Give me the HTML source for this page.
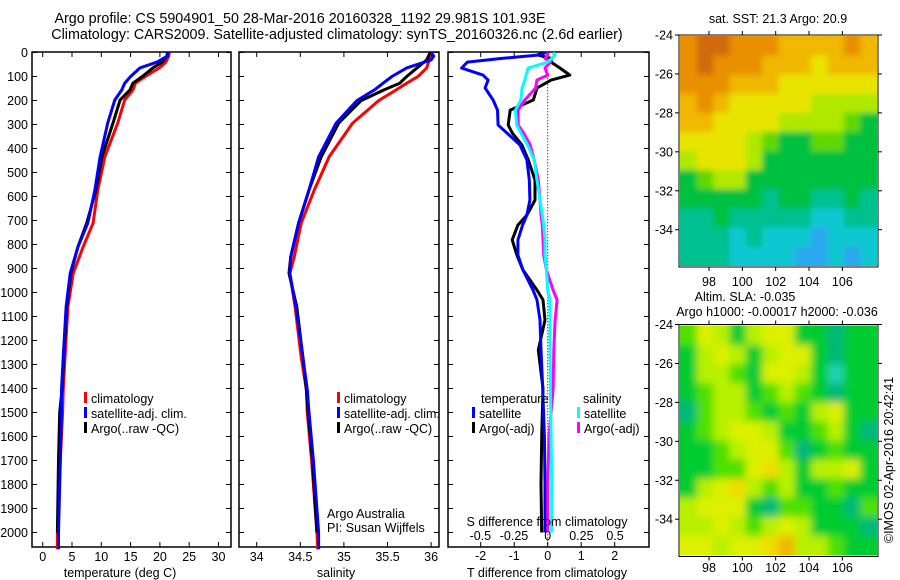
<!DOCTYPE html>
<html><head><meta charset="utf-8"><style>
html,body{margin:0;padding:0;background:#fff;}
svg{display:block;font-family:"Liberation Sans",Arial,sans-serif;}
text{fill:#000;}
</style></head><body>
<svg id="fig" width="900" height="580" xmlns="http://www.w3.org/2000/svg">
<defs>
<filter id="blurSla" x="-10%" y="-10%" width="120%" height="120%"><feGaussianBlur stdDeviation="4"/></filter>
<filter id="blurSst" x="-10%" y="-10%" width="120%" height="120%"><feGaussianBlur stdDeviation="3"/></filter>
<clipPath id="clipSst"><rect x="680" y="36" width="197" height="230"/></clipPath>
<clipPath id="clipSla"><rect x="680" y="325.5" width="197" height="230"/></clipPath>
</defs>
<text x="300" y="23" font-size="14.3" text-anchor="middle">Argo profile: CS 5904901_50 28-Mar-2016 20160328_1192 29.981S 101.93E</text>
<text x="337" y="39" font-size="14.3" text-anchor="middle">Climatology: CARS2009. Satellite-adjusted climatology: synTS_20160326.nc (2.6d earlier)</text>
<text x="778" y="23" font-size="12.5" text-anchor="middle">sat. SST: 21.3 Argo: 20.9</text>
<text x="745" y="301" font-size="12.5" text-anchor="middle">Altim. SLA: -0.035</text>
<text x="777" y="316" font-size="12.5" text-anchor="middle">Argo h1000: -0.00017 h2000: -0.036</text>
<text transform="translate(893,460) rotate(-90)" font-size="12.5" text-anchor="middle">©IMOS 02-Apr-2016 20:42:41</text>
<g id="g"></g>
</svg>
<script>
// ---- data ----
const tDepth   = [0,15,40,64,100,128,156,198,294,435,573,711,810,920,1060,1270,1406,1500,1700,2000,2070];
const tClim    = [21.6,21.5,21.0,19.9,17.5,15.8,15.4,14.0,12.8,10.6,9.4,8.6,6.9,5.2,4.3,3.8,3.5,3.4,3.0,2.5,2.5];
const tSat     = [21.4,21.3,19.5,16.6,15.0,14.0,13.5,12.3,11.1,9.8,8.9,7.7,6.0,4.7,4.0,3.5,3.2,3.2,3.0,2.7,2.7];
const tArgo    = [21.3,21.2,20.4,18.8,17.0,15.4,14.9,13.2,12.0,10.1,9.1,7.5,6.0,4.8,4.1,3.6,3.3,2.9,2.7,2.5];
const sDepth   = [0,15,31,64,100,128,156,200,294,435,573,711,852,920,1060,1270,1406,1500,1700,2000,2070];
const sClim    = [36.0,36.0,35.98,35.95,35.85,35.72,35.6,35.4,35.1,34.83,34.66,34.51,34.43,34.38,34.44,34.51,34.57,34.58,34.63,34.69,34.7];
const sSat     = [36.0,36.03,36.0,35.72,35.55,35.45,35.35,35.15,34.91,34.71,34.6,34.48,34.39,34.38,34.45,34.53,34.58,34.6,34.65,34.71,34.71];
const sArgo    = [35.99,35.97,35.95,35.84,35.72,35.64,35.46,35.2,34.94,34.74,34.6,34.48,34.39,34.37,34.46,34.53,34.57,34.59,34.64,34.69];
const dDepth   = [0,10,25,40,65,94,115,148,198,240,302,335,385,448,531,615,677,719,781,844,906,990,1031,1115,1240,1400,1600,1800,2000];
const dTsat    = [-0.05,-0.23,-1.4,-2.4,-2.57,-1.93,-1.78,-1.87,-1.63,-1.5,-1.48,-1.22,-0.83,-0.62,-0.55,-0.53,-0.62,-0.75,-0.89,-0.89,-0.74,-0.44,-0.32,-0.23,-0.2,-0.15,-0.1,-0.08,-0.08];
const dTargo   = [-0.1,-0.3,0.1,0.1,0.37,0.66,0.1,-0.32,-0.43,-1.12,-1.18,-1.06,-0.77,-0.58,-0.38,-0.38,-0.62,-0.89,-1.06,-0.92,-0.74,-0.32,-0.14,-0.08,-0.28,-0.14,-0.18,-0.2,-0.18];
const dSsat    = [0.04,0.054,0.03,0.0,-0.146,-0.16,-0.17,-0.19,-0.2,-0.24,-0.23,-0.2,-0.15,-0.1,-0.08,-0.057,-0.04,-0.03,-0.02,-0.02,-0.01,0.0,0.015,0.017,0.017,0.02,0.025,0.03,0.03];
const dSargo   = [0.0,0.0,-0.02,0.02,-0.02,0.0,-0.08,-0.09,-0.17,-0.22,-0.22,-0.18,-0.13,-0.1,-0.07,-0.057,-0.05,-0.04,-0.035,-0.03,-0.01,0.04,0.07,0.055,0.045,0.04,0.01,0.0,0.0];
const depthTicks = [0,100,200,300,400,500,600,700,800,900,1000,1100,1200,1300,1400,1500,1600,1700,1800,1900,2000];
const tTicks = [0,5,10,15,20,25,30];
const sTicks = [34,34.5,35,35.5,36];
const sTickLabels = ["34","34.5","35","35.5","36"];
const dtTicks = [-2,-1,0,1,2];
const dsTicks = [-0.5,-0.25,0,0.25,0.5];
const dsTickLabels = ["-0.5","-0.25","0","0.25","0.5"];
const lonTicks = [98,100,102,104,106];
const latTicks = [-24,-26,-28,-30,-32,-34];
const sstGrid = [
[8,9,9,8,8,8,7,7,7,7,8,7],
[8,9,8,8,8,7,7,7,6,7,7,7],
[8,8,8,7,7,7,6,6,6,6,6,6],
[7,8,7,6,6,6,6,6,5,5,5,5],
[7,7,6,6,6,6,5,5,5,5,4,3],
[6,6,6,6,5,4,3,3,4,4,3,3],
[5,6,6,6,5,3,3,3,3,3,3,3],
[3,4,5,5,3,3,3,3,3,3,3,3],
[3,3,3,3,3,2,3,3,2,2,3,2],
[2,2,3,2,2,2,2,2,1,1,2,2],
[2,2,2,1,2,1,1,1,0,1,1,1],
[2,2,2,1,1,1,1,0,0,1,0,1]];
const sstColors = ["#2aa8f0","#10c8d0","#00c090","#00c040","#60d800","#b0e800","#e8e400","#f0b800","#e89000","#d06a10"];
const slaGrid = [
[2,4,3,1,3,4,4,1,1,0,1,1],
[1,3,4,3,1,3,4,4,1,0,1,1],
[1,3,3,2,1,4,4,3,1,7,1,1],
[1,2,3,3,1,2,3,2,1,0,1,1],
[0,2,3,3,2,1,2,1,3,4,1,1],
[1,2,3,4,4,3,1,1,2,3,1,0],
[1,1,2,3,4,4,2,0,1,2,1,1],
[1,1,2,2,4,5,3,1,3,3,4,1],
[1,3,4,5,3,2,3,1,1,2,1,1],
[3,4,4,4,1,0,2,2,1,1,0,2],
[3,3,4,3,2,3,4,3,1,1,1,0],
[4,4,3,4,4,5,6,3,3,2,1,1]];
const slaColors = ["#00b878","#00cc30","#50e000","#b8f000","#dcf000","#f0dc00","#f0b800","#20d0b0"];

// ---- helpers ----
const NS="http://www.w3.org/2000/svg";
const G=document.getElementById('g');
function mk(tag,attrs,parent){const e=document.createElementNS(NS,tag);for(const k in attrs)e.setAttribute(k,attrs[k]);(parent||G).appendChild(e);return e;}
function txt(x,y,s,size,anchor,parent){const t=mk('text',{x:x,y:y,'font-size':size,'text-anchor':anchor||'middle'},parent);t.textContent=s;return t;}
const Y = d => 52.5 + d*0.24;
const yTop=52, yBot=547;
const xT = v => 42.7 + v*5.86;
const xS = v => 256.7 + (v-34)*87.2;
const xDT = v => 547.7 + v*33.5;
const xDS = v => 547.7 + v*134.7;

function panel(name,x0,x1){
  const g=mk('g',{});
  
  
  mk('rect',{x:x0,y:yTop,width:x1-x0,height:yBot-yTop,fill:'none',stroke:'#000','stroke-width':1.5},g);
  depthTicks.forEach(d=>{mk('line',{x1:x0,x2:x0+5,y1:Y(d),y2:Y(d),stroke:'#000'},g);mk('line',{x1:x1-5,x2:x1,y1:Y(d),y2:Y(d),stroke:'#000'},g);});
  return g;
}
function line(g,name,xs,ds,fx,color,w){
  const pts=xs.map((v,i)=>fx(v).toFixed(1)+','+Y(ds[i]).toFixed(1)).join(' ');
  const p=mk('polyline',{points:pts,fill:'none',stroke:color,'stroke-width':w||3,'stroke-linejoin':'round'},g);
  
  
}
function legend(g,x,y,color,label,name){
  mk('rect',{x:x,y:y-11,width:3,height:11,fill:color},g);
  const t=txt(x+7,y,label,12.5,'start',g);
  
  
}

// ---- panel 1: temperature ----
const p1=panel('temperature-panel',32,231);
depthTicks.forEach(d=>{txt(28,Y(d)+4.5,String(d),12.5,'end',p1);});
tTicks.forEach(v=>{mk('line',{x1:xT(v),x2:xT(v),y1:yTop,y2:yTop+5,stroke:'#000'},p1);mk('line',{x1:xT(v),x2:xT(v),y1:yBot-5,y2:yBot,stroke:'#000'},p1);txt(xT(v),561,String(v),12.5,'middle',p1);});
const xl1=txt(120,577,'temperature (deg C)',12.5,'middle',p1);

line(p1,'temp-climatology-line',tClim,tDepth,xT,'#f00');
line(p1,'temp-argo-line',tArgo,tDepth,xT,'#000');
line(p1,'temp-satellite-line',tSat,tDepth,xT,'#00f');
legend(p1,84,403,'#f00','climatology','legend-climatology');
legend(p1,84,418,'#00f','satellite-adj. clim.','legend-satellite');
legend(p1,84,433,'#000','Argo(..raw -QC)','legend-argo');

// ---- panel 2: salinity ----
const p2=panel('salinity-panel',239,439);
sTicks.forEach((v,i)=>{mk('line',{x1:xS(v),x2:xS(v),y1:yTop,y2:yTop+5,stroke:'#000'},p2);mk('line',{x1:xS(v),x2:xS(v),y1:yBot-5,y2:yBot,stroke:'#000'},p2);txt(xS(v),561,sTickLabels[i],12.5,'middle',p2);});
const xl2=txt(336,577,'salinity',12.5,'middle',p2);

line(p2,'sal-climatology-line',sClim,sDepth,xS,'#f00');
line(p2,'sal-argo-line',sArgo,sDepth,xS,'#000');
line(p2,'sal-satellite-line',sSat,sDepth,xS,'#00f');
legend(p2,337,403,'#f00','climatology','legend-sal-climatology');
legend(p2,337,418,'#00f','satellite-adj. clim.','legend-sal-satellite');
legend(p2,337,433,'#000','Argo(..raw -QC)','legend-sal-argo');
txt(327,518,'Argo Australia',12.5,'start',p2);
txt(327,532,'PI: Susan Wijffels',12.5,'start',p2);

// ---- panel 3: differences ----
const p3=panel('difference-panel',448,649);
mk('line',{x1:xDT(0),x2:xDT(0),y1:Y(95),y2:yBot,stroke:'#000','stroke-dasharray':'1,2'},p3);
dtTicks.forEach(v=>{mk('line',{x1:xDT(v),x2:xDT(v),y1:yTop,y2:yTop+5,stroke:'#000'},p3);mk('line',{x1:xDT(v),x2:xDT(v),y1:yBot-5,y2:yBot,stroke:'#000'},p3);txt(xDT(v),560,String(v),12.5,'middle',p3);});
line(p3,'dt-argo-line',dTargo,dDepth,xDT,'#000');
line(p3,'dt-satellite-line',dTsat,dDepth,xDT,'#00f');
line(p3,'ds-argo-line',dSargo,dDepth,xDS,'#f0f');
line(p3,'ds-satellite-line',dSsat,dDepth,xDS,'#0ff');
txt(481,403,'temperature',12.5,'start',p3);
legend(p3,472,418,'#00f','satellite','legend-dt-satellite');
legend(p3,472,433,'#000','Argo(-adj)','legend-dt-argo');
txt(583,403,'salinity',12.5,'start',p3);
legend(p3,577,418,'#0ff','satellite','legend-ds-satellite');
legend(p3,577,433,'#f0f','Argo(-adj)','legend-ds-argo');
txt(547,526,'S difference from climatology',12.5,'middle',p3);
dsTicks.forEach((v,i)=>{txt(xDS(v),540,dsTickLabels[i],12.5,'middle',p3);});
const xl3=txt(547,577,'T difference from climatology',12.5,'middle',p3);


// ---- maps ----
function map(name,y0,grid,colors,lonLabY,filt,clip){
  const x0=679,x1=878,h=232;
  const g=mk('g',{});
  
  
  const lonX = lon => x0 + (lon-96.2)*16.67;
  const latY = lat => y0 + (-24-lat)*19.47;
  const rows=grid.length, cols=grid[0].length;
  const cw=(x1-x0-3)/cols, ch=(h-3)/rows;
  const cg=mk('g',{'clip-path':'url(#'+clip+')'},g);
  const bg=mk('g',{filter:'url(#'+filt+')'},cg);
  const pad=12;
  grid.forEach((r,i)=>r.forEach((v,j)=>{
    let x=x0+1.5+j*cw, y=y0+1.5+i*ch, w=cw+0.6, hh=ch+0.6;
    if(j===0){x-=pad;w+=pad;} if(j===cols-1){w+=pad;}
    if(i===0){y-=pad;hh+=pad;} if(i===rows-1){hh+=pad;}
    const c=mk('rect',{x:x.toFixed(2),y:y.toFixed(2),width:w.toFixed(2),height:hh.toFixed(2),fill:colors[v]},bg);
    
    
  }));
  mk('rect',{x:x0,y:y0,width:x1-x0,height:h,fill:'none',stroke:'#000','stroke-width':1},g);
  lonTicks.forEach(l=>{mk('line',{x1:lonX(l),x2:lonX(l),y1:y0-4,y2:y0,stroke:'#000'},g);mk('line',{x1:lonX(l),x2:lonX(l),y1:y0+h,y2:y0+h+4,stroke:'#000'},g);txt(lonX(l),lonLabY,String(l),12.5,'middle',g);});
  latTicks.forEach(l=>{mk('line',{x1:x0-4,x2:x0,y1:latY(l),y2:latY(l),stroke:'#000'},g);mk('line',{x1:x1,x2:x1+4,y1:latY(l),y2:latY(l),stroke:'#000'},g);txt(673,latY(l)+4.5,String(l),12.5,'end',g);});
}
map('sst-map',35,sstGrid,sstColors,286,'blurSst','clipSst');
map('sla-map',324.5,slaGrid,slaColors,572,'blurSla','clipSla');
</script>
</body></html>
